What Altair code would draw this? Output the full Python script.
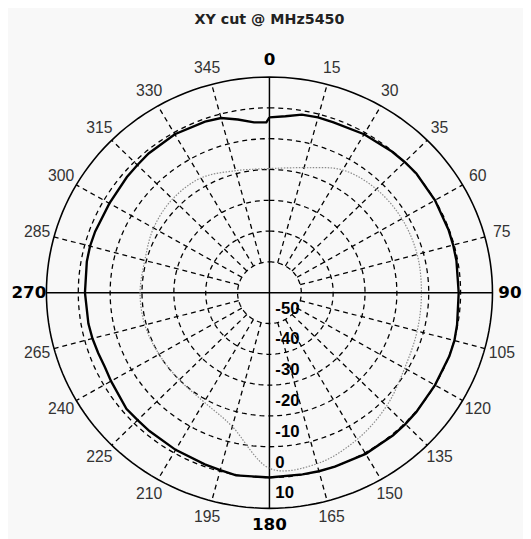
import altair as alt
import numpy as np
import pandas as pd

# ---------------- data ----------------
title_text = "XY cut @ MHz5450"

# main trace (solid black), angle in degrees (0 = top, clockwise), level in dB
main_angles = [0, 5, 10, 15, 20, 30, 40, 45, 50, 60, 70, 75, 80, 90, 100, 105,
               110, 120, 130, 135, 140, 150, 160, 165, 170, 180, 190, 195, 200,
               210, 220, 225, 230, 240, 245, 250, 255, 260, 270, 280, 285, 290,
               300, 310, 315, 320, 330, 340, 345, 350, 355, 359, 360]
main_db = [-3.1, -2.5, -1.3, -1.1, -1.2, -0.6, -0.2, 0.0, 0.2, 0.0, -0.2, -0.3,
           -0.4, -0.6, -0.2, 0.1, 0.1, 0.0, 0.2, 0.3, 0.4, 0.4, 0.1, 0.0, -0.1,
           0.0, 0.2, -0.4, -0.7, -1.1, -1.4, -1.5, -1.4, -2.6, -3.0, -2.8, -2.5,
           -2.3, -2.1, -1.8, -1.7, -1.8, -2.0, -1.6, -1.4, -1.0, -0.6, -0.9,
           -1.3, -2.9, -4.5, -4.7, -3.1]

# second trace (grey dotted)
grey_angles = [0, 15, 30, 45, 60, 75, 90, 105, 120, 135, 150, 165, 180, 195,
               210, 225, 240, 255, 270, 285, 300, 315, 330, 345, 360]
grey_db = [-19.7, -18.0, -14.0, -12.5, -12.0, -12.0, -12.3, -12.0, -11.0, -8.0,
           -5.0, -2.5, -3.0, -15.0, -19.0, -20.0, -20.0, -19.5, -19.4, -19.5,
           -18.0, -17.0, -17.0, -19.0, -19.7]

ring_levels = [-50, -40, -30, -20, -10, 0]
ring_labels = ["-50", "-40", "-30", "-20", "-10", "0", "10"]
ring_label_levels = [-50, -40, -30, -20, -10, 0, 10]
angle_ticks = list(range(0, 360, 15))
angle_texts = ["0", "15", "30", "35", "60", "75", "90", "105", "120", "135",
               "150", "165", "180", "195", "210", "225", "240", "265", "270",
               "285", "300", "315", "330", "345"]
cardinal = [0, 90, 180, 270]

r_min = -60   # centre level
r_max = 10    # outer circle level
R = r_max - r_min


def to_xy(ang, db):
    r = np.asarray(db, dtype=float) - r_min
    a = np.deg2rad(np.asarray(ang, dtype=float))
    return r * np.sin(a), r * np.cos(a)


# traces
mx, my = to_xy(main_angles, main_db)
main_df = pd.DataFrame({"x": mx, "y": my, "i": range(len(mx))})
gx, gy = to_xy(grey_angles, grey_db)
grey_df = pd.DataFrame({"x": gx, "y": gy, "i": range(len(gx))})

# grid rings
circ = np.arange(0, 361, 2)
rows = []
for lv in ring_levels:
    x, y = to_xy(circ, [lv] * len(circ))
    for k in range(len(circ)):
        rows.append({"ring": lv, "x": x[k], "y": y[k], "i": k})
ring_df = pd.DataFrame(rows)
ox, oy = to_xy(circ, [r_max] * len(circ))
outer_df = pd.DataFrame({"x": ox, "y": oy, "i": range(len(circ))})

# spokes (dashed) from inner ring to outer circle
sp = [a for a in angle_ticks if a not in cardinal]
sx1, sy1 = to_xy(sp, [-50] * len(sp))
sx2, sy2 = to_xy(sp, [r_max] * len(sp))
spoke_df = pd.DataFrame({"x": sx1, "y": sy1, "x2": sx2, "y2": sy2})

# main axes
ax_df = pd.DataFrame({"x": [-R, 0], "y": [0, -R], "x2": [R, 0], "y2": [0, R]})

# angle labels
lab_lv = R + 5.5 + r_min
lx, ly = to_xy(angle_ticks, [lab_lv] * len(angle_ticks))
alab_df = pd.DataFrame({"x": lx, "y": ly, "t": angle_texts,
                        "card": [a in cardinal for a in angle_ticks]})

# dB labels along the lower vertical axis
dbl_df = pd.DataFrame({"x": [0] * len(ring_labels),
                       "y": [-(v - r_min - 4.8) for v in ring_label_levels],
                       "t": ring_labels})

W, H = 453, 438
xs = alt.Scale(domain=[-R, R], nice=False, zero=False)
ys = alt.Scale(domain=[-R, R], nice=False, zero=False)
X = lambda f="x": alt.X(f"{f}:Q", scale=xs, axis=None)
Y = lambda f="y": alt.Y(f"{f}:Q", scale=ys, axis=None)

rings = alt.Chart(ring_df).mark_line(
    color="black", strokeWidth=1.3, strokeDash=[5, 4], clip=False
).encode(x=X(), y=Y(), detail="ring:N", order="i:Q")

outer = alt.Chart(outer_df).mark_line(
    color="black", strokeWidth=1.6, clip=False
).encode(x=X(), y=Y(), order="i:Q")

spokes = alt.Chart(spoke_df).mark_rule(
    color="black", strokeWidth=1.3, strokeDash=[5, 4]
).encode(x=X(), y=Y(), x2="x2:Q", y2="y2:Q")

axes = alt.Chart(ax_df).mark_rule(color="black", strokeWidth=1.5).encode(
    x=X(), y=Y(), x2="x2:Q", y2="y2:Q")

grey = alt.Chart(grey_df).mark_line(
    color="#8a8a8a", strokeWidth=1.2, strokeDash=[1.5, 1.5], interpolate="cardinal-closed"
).encode(x=X(), y=Y(), order="i:Q")

main = alt.Chart(main_df).mark_line(
    color="black", strokeWidth=2.4, interpolate="linear"
).encode(x=X(), y=Y(), order="i:Q")

alab_small = alt.Chart(alab_df[~alab_df.card]).mark_text(
    font="Liberation Sans", fontSize=16, color="#333333", baseline="middle", align="center"
).encode(x=X(), y=Y(), text="t:N")

alab_big = alt.Chart(alab_df[alab_df.card]).mark_text(
    font="DejaVu Sans", fontWeight="bold", fontSize=17, color="black",
    baseline="middle", align="center"
).encode(x=X(), y=Y(), text="t:N")

dbl = alt.Chart(dbl_df).mark_text(
    font="Liberation Sans", fontWeight="bold", fontSize=17, color="black",
    baseline="middle", align="left", dx=6
).encode(x=X(), y=Y(), text="t:N")

title = alt.Chart(pd.DataFrame({"t": [title_text]})).mark_text(
    font="DejaVu Sans", fontWeight="bold", fontSize=14.5, color="#222222",
    baseline="middle", align="center"
).encode(x=alt.value(W / 2), y=alt.value(-58), text="t:N")

chart = alt.layer(
    rings, spokes, outer, axes, grey, main, alab_small, alab_big, dbl, title
).properties(
    width=W, height=H,
    autosize=alt.AutoSizeParams(type="none"),
    padding={"left": 39, "top": 66, "right": 31, "bottom": 27},
    background="#f8f8f8",
).configure_view(stroke=None)

chart.save("out.html", embed_options={"renderer": "svg", "actions": False})
